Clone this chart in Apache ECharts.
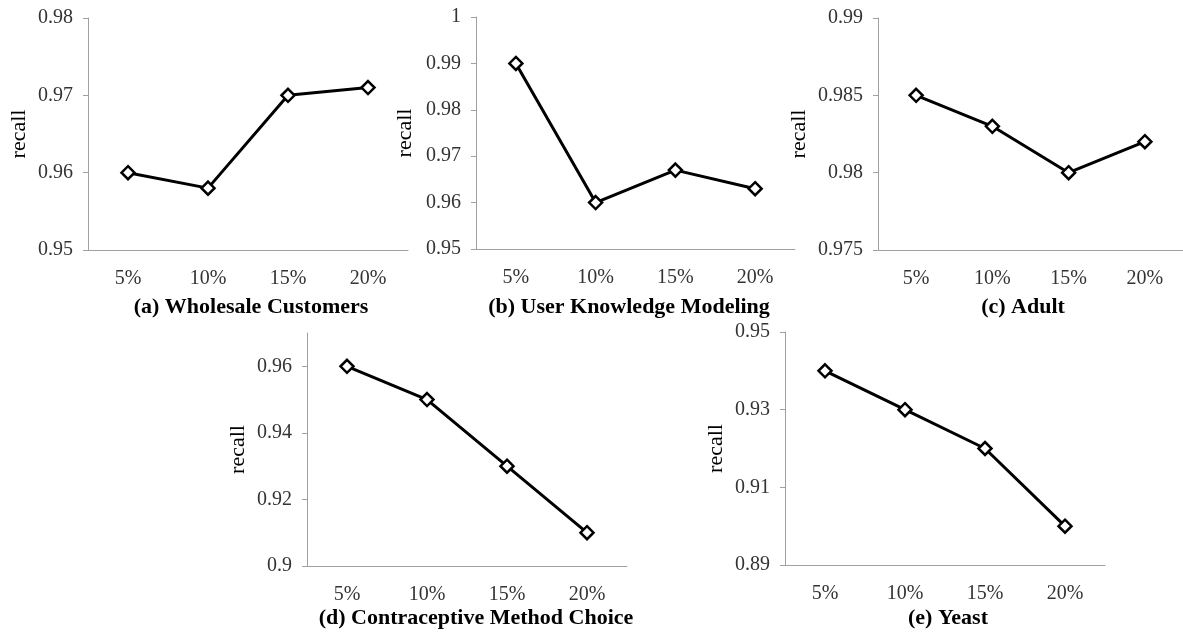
<!DOCTYPE html>
<html>
<head>
<meta charset="utf-8">
<script src="https://cdn.jsdelivr.net/npm/echarts@6/dist/echarts.min.js"></script>
<style>
html,body{margin:0;padding:0;background:#fff;}
#c{width:1183px;height:633px;}
</style>
</head>
<body>
<div id="c"></div>
<script>
var categories = ['5%', '10%', '15%', '20%'];
var wholesale = [0.960, 0.958, 0.970, 0.971];
var userKnowledge = [0.990, 0.960, 0.967, 0.963];
var adult = [0.985, 0.983, 0.980, 0.982];
var contraceptive = [0.960, 0.950, 0.930, 0.910];
var yeast = [0.940, 0.930, 0.920, 0.900];
var titles = ['(a) Wholesale Customers', '(b) User Knowledge Modeling', '(c) Adult', '(d) Contraceptive Method Choice', '(e) Yeast'];
var yMin = [0.95, 0.95, 0.975, 0.90, 0.89];
var yMax = [0.98, 1.00, 0.99, 0.97, 0.95];
var yStep = [0.01, 0.01, 0.005, 0.02, 0.02];

var seriesData = [wholesale, userKnowledge, adult, contraceptive, yeast];
var grids = [
  {left: 88, top: 18, width: 320, height: 232},
  {left: 476, top: 17, width: 319, height: 232},
  {left: 878, top: 18, width: 308, height: 232},
  {left: 307, top: 333, width: 320, height: 233},
  {left: 785, top: 332, width: 320, height: 233}
];
var nameGaps = [58, 60, 68, 58, 58];
var titlePos = [
  {x: 246, y: 291}, {x: 624, y: 291}, {x: 1018, y: 291},
  {x: 471, y: 602}, {x: 943, y: 602}
];
var FONT = '"Liberation Serif", "Times New Roman", serif';

var option = {
  backgroundColor: '#fff',
  animation: false,
  title: [], grid: [], xAxis: [], yAxis: [], series: []
};
for (var i = 0; i < 5; i++) {
  option.title.push({
    text: titles[i], left: titlePos[i].x, top: titlePos[i].y, textAlign: 'center',
    textStyle: {fontFamily: FONT, fontSize: 22, fontWeight: 'bold', color: '#000'}
  });
  option.grid.push(Object.assign({containLabel: false}, grids[i]));
  option.xAxis.push({
    type: 'category', gridIndex: i, data: categories, boundaryGap: true,
    axisLine: {lineStyle: {color: '#a0a0a0', width: 1}},
    axisTick: {show: false},
    axisLabel: {fontFamily: FONT, fontSize: 20, color: '#333', margin: 19}
  });
  option.yAxis.push({
    type: 'value', gridIndex: i, min: yMin[i], max: yMax[i], interval: yStep[i],
    name: 'recall', nameLocation: 'middle', nameGap: nameGaps[i],
    nameTextStyle: {fontFamily: FONT, fontSize: 22, color: '#000'},
    axisLine: {show: true, lineStyle: {color: '#a0a0a0', width: 1}},
    axisTick: {show: true, length: 5, lineStyle: {color: '#a0a0a0'}},
    splitLine: {show: false},
    axisLabel: {fontFamily: FONT, fontSize: 20, color: '#333', margin: 15, showMaxLabel: i !== 3,
      formatter: function (v) { return String(+v.toFixed(3)); }}
  });
  option.series.push({
    type: 'line', xAxisIndex: i, yAxisIndex: i, data: seriesData[i],
    symbol: 'diamond', symbolSize: 13,
    lineStyle: {color: '#000', width: 3},
    itemStyle: {color: '#fff', borderColor: '#000', borderWidth: 2.5},
    z: 3
  });
}
var chart = echarts.init(document.getElementById('c'), null, {renderer: 'canvas'});
chart.setOption(option);
</script>
</body>
</html>
